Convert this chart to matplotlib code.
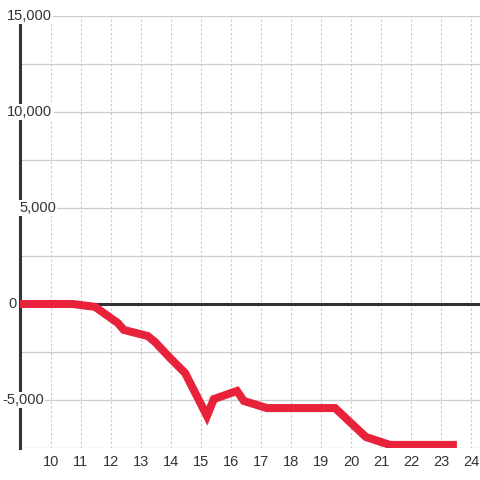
import matplotlib.pyplot as plt
import matplotlib.transforms as mtransforms

# data
x_vals = [8.97, 10.73, 11.47, 12.23, 12.43, 13.23, 13.47, 13.97, 14.47, 15.2,
          15.43, 16.2, 16.43, 17.2, 19.47, 20.5, 21.3, 23.53]
y_vals = [0, 0, -150, -990, -1350, -1670, -1980, -2810, -3590, -5830,
          -4950, -4530, -5050, -5420, -5420, -6930, -7340, -7340]
x_ticks = list(range(10, 25))
y_ticks = [-7500, -5000, -2500, 0, 2500, 5000, 7500, 10000, 12500, 15000]
y_labels = ["-5,000", "0", "5,000", "10,000", "15,000"]
y_label_vals = [-5000, 0, 5000, 10000, 15000]
y_label_left = [2, 8, 19, 7, 7]   # pixel left edge of each label

plt.rcParams['font.family'] = ['Liberation Sans', 'DejaVu Sans']

fig = plt.figure(figsize=(4.8, 4.8), dpi=100)
ax = fig.add_axes([20 / 480, 1 - 448 / 480, 460 / 480, 432 / 480])
ax.set_xlim(8.97, 24.3)
ax.set_ylim(-7500, 15000)

for s in ['top', 'right', 'bottom']:
    ax.spines[s].set_visible(False)
ax.spines['left'].set_color('#333333')
ax.spines['left'].set_linewidth(2.2)
ax.spines['left'].set_zorder(1)

# grid
for yv in y_ticks:
    ax.axhline(yv, color='#cccccc', lw=0.9, zorder=0)
for xv in x_ticks:
    ax.axvline(xv, color='#c8c8c8', lw=0.8, ls=(0, (2, 2)), zorder=0)
ax.axhline(0, color='#333333', lw=2.2, zorder=2)

ax.plot(x_vals, y_vals, color='#e8223a', lw=5.8, solid_joinstyle='miter',
        solid_capstyle='butt', zorder=3)

ax.set_xticks(x_ticks)
ax.set_xticklabels([str(t) for t in x_ticks], fontsize=10.5, color='#333333')
ax.tick_params(axis='x', length=0, pad=5)
ax.set_yticks([])

trans = mtransforms.blended_transform_factory(fig.transFigure, ax.transData)
for yv, lab, left in zip(y_label_vals, y_labels, y_label_left):
    ax.text(left / 480, yv, lab, transform=trans, ha='left', va='center',
            fontsize=10.5, color='#333333', zorder=1.5, clip_on=False,
            bbox=dict(facecolor='white', edgecolor='none', pad=1.0))

fig.savefig('out.png', dpi=100)
